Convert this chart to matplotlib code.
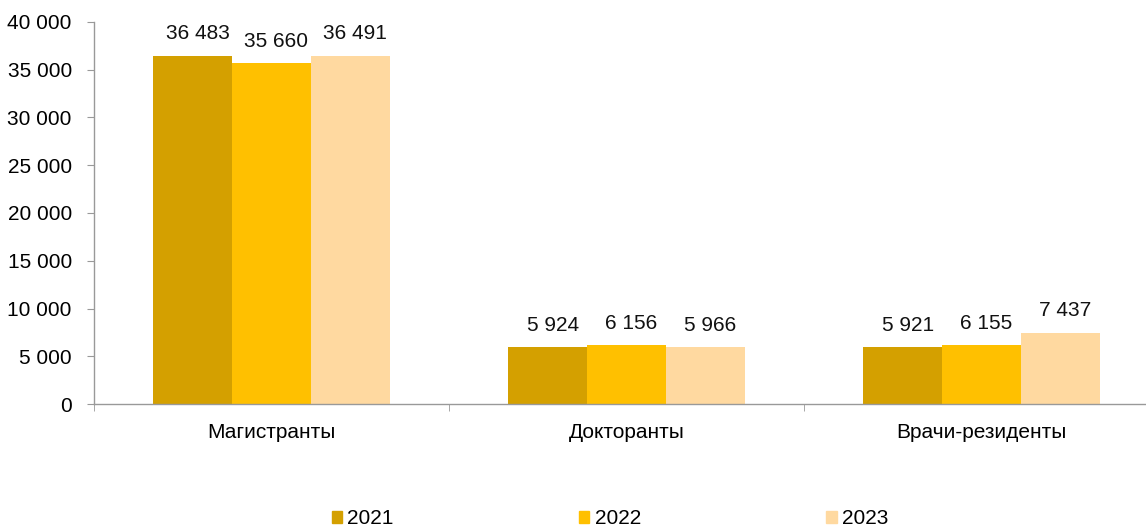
import matplotlib
matplotlib.use("Agg")
import matplotlib.pyplot as plt
import numpy as np
from matplotlib.patches import Patch

categories = ["Магистранты", "Докторанты", "Врачи-резиденты"]
years = ["2021", "2022", "2023"]
v2021 = [36483, 5924, 5921]
v2022 = [35660, 6156, 6155]
v2023 = [36491, 5966, 7437]
colors = ["#D4A000", "#FFC000", "#FFD9A0"]

plt.rcParams['font.family'] = ['Liberation Sans', 'DejaVu Sans']
fs = 15

fig = plt.figure(figsize=(11.46, 5.28), dpi=100)
ax = fig.add_axes([94/1146, (528-404)/528, (3*355)/1146, (404-22)/528])

def fmt(v):
    return f"{v:,}".replace(",", " ")

x = np.arange(len(categories))
w = 0.222
series = [v2021, v2022, v2023]
for i, (vals, c, yr) in enumerate(zip(series, colors, years)):
    pos = x + (i - 1) * w
    bars = ax.bar(pos, vals, width=w, color=c, label=yr, zorder=2)
    for b, v in zip(bars, vals):
        ax.annotate(fmt(v), (b.get_x() + b.get_width()/2, v), xytext=(3.6, 9),
                    textcoords="offset points", ha="center", va="bottom", fontsize=fs, color="#111111")

ax.set_xlim(-0.5, 2.5)
ax.set_ylim(0, 40000)
ax.set_yticks(np.arange(0, 40001, 5000))
ax.set_yticklabels([fmt(v) for v in range(0, 40001, 5000)], fontsize=fs)
ax.set_xticks(x)
ax.set_xticklabels(categories, fontsize=fs)
ax.tick_params(axis='x', which='major', length=0, pad=14)
ax.set_xticks([-0.5, 0.5, 1.5], minor=True)
ax.tick_params(axis='x', which='minor', length=5, color="#999999", direction='out')
ax.tick_params(axis='y', length=5, color="#999999", direction='out', pad=11)
for s in ["top", "right"]:
    ax.spines[s].set_visible(False)
for s in ["left", "bottom"]:
    ax.spines[s].set_color("#999999")
    ax.spines[s].set_linewidth(1)

handles = [Patch(color=c) for c in colors]
fig.legend(handles, years, loc="center", bbox_to_anchor=(610/1146, 1 - 519/528), ncol=3,
           frameon=False, fontsize=fs, handlelength=0.5, handleheight=0.5,
           handletextpad=0.25, columnspacing=8.9)

fig.savefig("out.png", dpi=100)
